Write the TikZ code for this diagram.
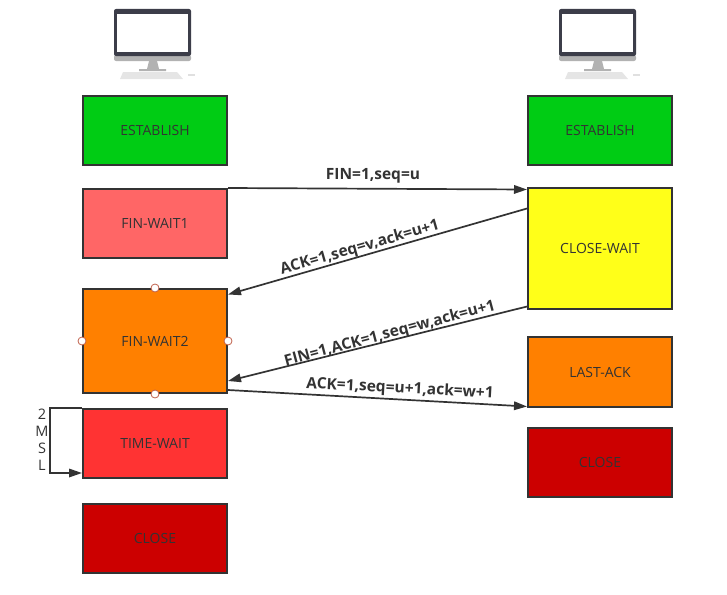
\documentclass[tikz,border=0pt]{standalone}
\usepackage{fontspec}
\setmainfont{Open Sans}
\definecolor{ink}{HTML}{333333}
\definecolor{cgreen}{HTML}{00CC14}
\definecolor{cpink}{HTML}{FF6666}
\definecolor{corange}{HTML}{FF8000}
\definecolor{cred}{HTML}{FF3333}
\definecolor{cdark}{HTML}{CC0000}
\definecolor{cyell}{HTML}{FFFF19}
\definecolor{cframe}{HTML}{3C3D49}
\definecolor{chand}{HTML}{C0604A}
\usetikzlibrary{arrows.meta,calc}
\tikzset{
  statebox/.style={draw=ink,line width=2pt,minimum width=144pt,inner sep=0pt,anchor=north west,text=ink,font=\fontsize{14}{16}\selectfont},
  msg/.style={draw=ink,line width=1.7pt,-{Triangle[length=13pt,width=8.5pt]}},
  msgtext/.style={text=ink,font=\bfseries\fontsize{15.5}{18}\selectfont,inner sep=0pt},
  handle/.style={circle,draw=chand,fill=white,line width=0.8pt,minimum size=8pt,inner sep=0pt},
  pics/computer/.style={code={
    \fill[rounded corners=2pt,fill=black!30] (0,46) rectangle (77,52);
    \fill[rounded corners=2pt,fill=cframe] (0,0) rectangle (77,47);
    \fill[white] (3,5) rectangle (74,43);
    \fill[black!30] (35,52) -- (43,52) -- (45,60) -- (52,60) -- (52,62) -- (25,62) -- (25,60) -- (33,60) -- cycle;
    \fill[black!10] (9,63) -- (63,63) -- (69,70) -- (6,70) -- cycle;
    \fill[black!12] (74,64.5) rectangle (81,67);
  }}
}
\begin{document}
\begin{tikzpicture}[x=1pt,y=-1pt]
\useasboundingbox (0,0) rectangle (727,594);
\pic at (114,9) {computer};
\pic at (559,9) {computer};
\node[statebox,fill=cgreen,minimum height=69pt] (le) at (82,95) {ESTABLISH};
\node[statebox,fill=cpink,minimum height=69pt] (lf1) at (82,188) {FIN-WAIT1};
\node[statebox,fill=corange,minimum height=104pt] (lf2) at (82,288) {FIN-WAIT2};
\node[statebox,fill=cred,minimum height=69pt] (lt) at (82,408) {TIME-WAIT};
\node[statebox,fill=cdark,minimum height=69pt] (lc) at (82,503) {CLOSE};
\node[statebox,fill=cgreen,minimum height=69pt] (re) at (527,95) {ESTABLISH};
\node[statebox,fill=cyell,minimum height=120.5pt] (rw) at (527,187) {CLOSE-WAIT};
\node[statebox,fill=corange,minimum height=70pt] (ra) at (527,336) {LAST-ACK};
\node[statebox,fill=cdark,minimum height=69pt] (rc) at (527,427) {CLOSE};
\node[handle] (h1) at (lf2.north) {};
\node[handle] (h2) at (lf2.south) {};
\node[handle] (h3) at (lf2.west) {};
\node[handle] (h4) at (lf2.east) {};
\draw[msg] (lf1.north east) -- ($(rw.north west)+(0,2.5)$);
\draw[msg] ($(rw.north west)+(0,21.5)$) -- ($(lf2.north east)+(0,6.5)$);
\draw[msg] ($(rw.south west)+(0,-3)$) -- ($(lf2.south east)+(0,-13)$);
\draw[msg] ($(lf2.south east)+(0,-4)$) -- ($(ra.south west)+(0,-1.5)$);
\draw[msg] (lt.north west) -- ++(-32,0) |- ($(lt.south west)+(0,-6)$);
\node[msgtext] (t1) at (373,176) {FIN=1,seq=u};
\node[msgtext,rotate=16] (t2) at (360,248) {ACK=1,seq=v,ack=u+1};
\node[msgtext,rotate=15] (t3) at (390,334) {FIN=1,ACK=1,seq=w,ack=u+1};
\node[msgtext,rotate=-3] (t4) at (400,389) {ACK=1,seq=u+1,ack=w+1};
\node[text=ink,font=\fontsize{14.5}{17}\selectfont,align=center,inner sep=0pt] (t5) at (42,440) {2\\M\\S\\L};
\end{tikzpicture}
\end{document}
